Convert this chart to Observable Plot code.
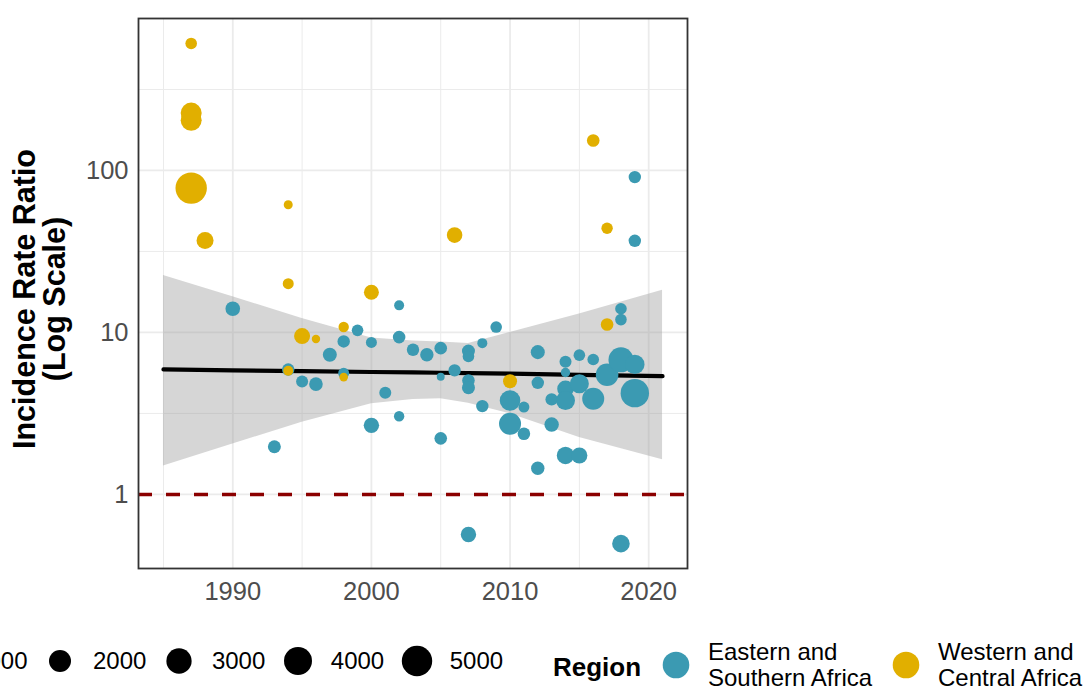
<!DOCTYPE html>
<html>
<head>
<meta charset="utf-8">
<script src="https://cdn.jsdelivr.net/npm/d3@7"></script>
<script src="https://cdn.jsdelivr.net/npm/@observablehq/plot@0.6"></script>
<style>
  html, body { margin: 0; padding: 0; background: #fff; }
  body { width: 1089px; height: 686px; overflow: hidden; position: relative; font-family: "Liberation Sans", Arial, sans-serif; }
  #chart { position: absolute; left: 0; top: 0; }
  #ytitle { position: absolute; width: 360px; height: 60px; left: calc(39px - 180px); top: calc(299px - 30px);
    transform: rotate(-90deg); transform-origin: 50% 50%; text-align: center; font-weight: bold; font-size: 30.5px;
    line-height: 30px; color: #000; white-space: nowrap; }
  .legend { position: absolute; top: 625px; height: 61px; left: 0; width: 1089px; }
  .item { position: absolute; display: flex; align-items: center; height: 60px; }
  .lab { font-size: 24px; color: #000; line-height: 26px; white-space: nowrap; }
  .rtitle { font-size: 26px; font-weight: bold; color: #000; white-space: nowrap; }
</style>
</head>
<body>
<div id="chart"></div>
<div id="ytitle">Incidence Rate Ratio<br>(Log Scale)</div>
<div id="legend" class="legend"></div>
<script>
// ---- data ----
const regions = ["Eastern and Southern Africa", "Western and Central Africa"];
const regionColors = ["#3B9AB2", "#E1AF00"];
const regionLabels = [["Eastern and", "Southern Africa"], ["Western and", "Central Africa"]];

// points: year, incidence rate ratio, sample size, region index (0 = Eastern/Southern, 1 = Western/Central)
const pointYear = [
  1987, 1987, 1987, 1987, 1988, 1994, 1994, 2000, 1995, 1996, 1998, 1994, 1998, 2006, 2016, 2017, 2017, 2010,
  2019, 2019, 1990, 2002, 1999, 2002, 1998, 2000, 2003, 1997, 1994, 1998, 1995, 1996, 2001, 2002, 2000, 1993,
  2004, 2005, 2005, 2005, 2006, 2007, 2007, 2007, 2007, 2007, 2008, 2008, 2009, 2010, 2010, 2011, 2011,
  2012, 2012, 2012, 2013, 2013, 2014, 2014, 2014, 2014, 2014, 2015, 2015, 2015, 2016, 2016, 2017,
  2018, 2018, 2018, 2018, 2019, 2019
];
const pointIRR = [
  608, 226, 204, 77.8, 37, 61.4, 20, 17.7, 9.5, 9.1, 10.8, 5.8, 5.3, 39.9, 153, 44, 11.2, 5.0,
  91, 36.8, 14.0, 14.7, 10.3, 9.36, 8.8, 8.68, 7.82, 7.28, 5.9, 5.6, 4.98, 4.8, 4.24, 3.04, 2.67, 1.97,
  7.28, 8.0, 5.33, 2.22, 5.83, 7.67, 7.11, 5.05, 4.56, 0.566, 8.59, 3.51, 10.8, 3.8, 2.73, 3.46, 2.37,
  7.56, 4.89, 1.45, 3.86, 2.7, 6.59, 5.66, 4.49, 3.8, 1.74, 7.24, 4.82, 1.74, 6.81, 3.9, 5.48,
  14.0, 12.0, 6.78, 0.497, 6.35, 4.22
];
const pointN = [
  156, 1730, 1730, 5450, 850, 20, 113, 530, 683, 7, 77, 57, 10, 620, 243, 141, 243, 398,
  225, 225, 475, 57, 156, 243, 225, 113, 225, 398, 225, 113, 189, 350, 189, 77, 589, 284,
  327, 243, 1, 243, 225, 284, 156, 243, 284, 589, 57, 225, 156, 1630, 2000, 113, 243,
  398, 225, 327, 225, 448, 189, 32, 783, 1254, 928, 156, 1254, 683, 156, 2000, 2170,
  156, 156, 2915, 966, 1344, 4160
];
const pointRegion = [
  1, 1, 1, 1, 1, 1, 1, 1, 1, 1, 1, 1, 1, 1, 1, 1, 1, 1,
  0, 0, 0, 0, 0, 0, 0, 0, 0, 0, 0, 0, 0, 0, 0, 0, 0, 0,
  0, 0, 0, 0, 0, 0, 0, 0, 0, 0, 0, 0, 0, 0, 0, 0, 0,
  0, 0, 0, 0, 0, 0, 0, 0, 0, 0, 0, 0, 0, 0, 0, 0,
  0, 0, 0, 0, 0, 0
];

// fitted trend line and confidence band
const fitYear  = [1985, 1990, 1995, 2000, 2003, 2005, 2007, 2010, 2015, 2021];
const fitLine  = [5.91, 5.84, 5.77, 5.70, 5.67, 5.64, 5.61, 5.57, 5.47, 5.37];
const fitLower = [1.50, 2.05, 2.79, 3.63, 3.86, 3.89, 3.65, 3.15, 2.25, 1.64];
const fitUpper = [22.5, 16.6, 12.2, 9.25, 8.86, 8.74, 8.55, 10.0, 13.0, 18.2];

const xTicks = [1990, 2000, 2010, 2020];
const xMinor = [1985, 1995, 2005, 2015];
const yTicks = [1, 10, 100];
const yMinor = [Math.sqrt(10), Math.sqrt(1000), Math.sqrt(100000)];
const refLine = [1];
const sizeBreaks = [1000, 2000, 3000, 4000, 5000];

// ---- tables ----
const points = pointYear.map((y, i) => ({year: y, irr: pointIRR[i], n: pointN[i], region: regions[pointRegion[i]], ord: pointRegion[i]}))
  .sort((a, b) => a.ord - b.ord);
const fit = fitYear.map((y, i) => ({year: y, fit: fitLine[i], lo: fitLower[i], hi: fitUpper[i]}));

const grid = "#EBEBEB";
const chart = Plot.plot({
  width: 1089,
  height: 625,
  marginLeft: 138,
  marginRight: 402,
  marginTop: 18,
  marginBottom: 57,
  style: {fontFamily: "'Liberation Sans', Arial, sans-serif", fontSize: "25.5px", color: "#4d4d4d", background: "white", overflow: "visible"},
  x: {domain: [1983.2, 2022.8], label: null},
  y: {type: "log", domain: [0.349, 867], label: null},
  r: {type: "pow", exponent: 0.5, domain: [0, 5000], range: [3.78, 15.2]},
  color: {domain: regions, range: regionColors},
  marks: [
    Plot.ruleX(xMinor, {stroke: grid, strokeWidth: 1}),
    Plot.ruleY(yMinor, {stroke: grid, strokeWidth: 1}),
    Plot.ruleX(xTicks, {stroke: grid, strokeWidth: 1.8}),
    Plot.ruleY(yTicks, {stroke: grid, strokeWidth: 1.8}),
    Plot.ruleY(refLine, {stroke: "#8B0000", strokeWidth: 3.5, strokeDasharray: "14,14"}),
    Plot.areaY(fit, {x: "year", y1: "lo", y2: "hi", fill: "#999999", fillOpacity: 0.4}),
    Plot.line(fit, {x: "year", y: "fit", stroke: "black", strokeWidth: 4.2}),
    Plot.dot(points, {x: "year", y: "irr", r: "n", fill: "region", stroke: "none", sort: null}),
    Plot.frame({stroke: "#333333", strokeWidth: 1.8}),
    Plot.axisX(xTicks, {tickSize: 0, tickPadding: 13, tickFormat: d => String(d), fontSize: 25.5, fill: "#4d4d4d", label: null}),
    Plot.axisY(yTicks, {tickSize: 0, tickPadding: 10, tickFormat: d => String(d), fontSize: 25.5, fill: "#4d4d4d", label: null})
  ]
});
document.getElementById("chart").appendChild(chart);

// ---- legends (below the svg) ----
const rScale = chart.scale("r");
const rOf = v => (rScale.apply ? rScale.apply(v) : d3.scalePow().exponent(0.5).domain(rScale.domain).range(rScale.range)(v));
const legend = document.getElementById("legend");
const ns = "http://www.w3.org/2000/svg";
function circleSvg(r, color, box) {
  const s = document.createElementNS(ns, "svg");
  s.setAttribute("width", box); s.setAttribute("height", box);
  s.style.flex = "none";
  const c = document.createElementNS(ns, "circle");
  c.setAttribute("cx", box / 2); c.setAttribute("cy", box / 2); c.setAttribute("r", r);
  c.setAttribute("fill", color);
  s.appendChild(c);
  return s;
}
// size legend: key centres every ~119px; the first one falls off the left edge
sizeBreaks.forEach((v, i) => {
  const item = document.createElement("div");
  item.className = "item";
  item.style.left = (-58.6 - 20 + i * 118.9) + "px";
  item.style.top = (660.6 - 625 - 30) + "px";
  const key = circleSvg(rOf(v), "#000", 40);
  const lab = document.createElement("div");
  lab.className = "lab";
  lab.style.marginLeft = "12.7px";
  lab.textContent = String(v);
  item.appendChild(key); item.appendChild(lab);
  legend.appendChild(item);
});
// region legend
const titleItem = document.createElement("div");
titleItem.className = "item";
titleItem.style.left = "553px";
titleItem.style.top = (667 - 625 - 30) + "px";
const rt = document.createElement("div");
rt.className = "rtitle";
rt.textContent = "Region";
titleItem.appendChild(rt);
legend.appendChild(titleItem);
const regionKeyX = [676, 906];
regions.forEach((reg, i) => {
  const item = document.createElement("div");
  item.className = "item";
  item.style.left = (regionKeyX[i] - 16) + "px";
  item.style.top = (665 - 625 - 30) + "px";
  const key = circleSvg(13.3, regionColors[i], 32);
  const lab = document.createElement("div");
  lab.className = "lab";
  lab.style.marginLeft = "16px";
  lab.innerHTML = regionLabels[i].join("<br>");
  item.appendChild(key); item.appendChild(lab);
  legend.appendChild(item);
});
</script>
</body>
</html>
